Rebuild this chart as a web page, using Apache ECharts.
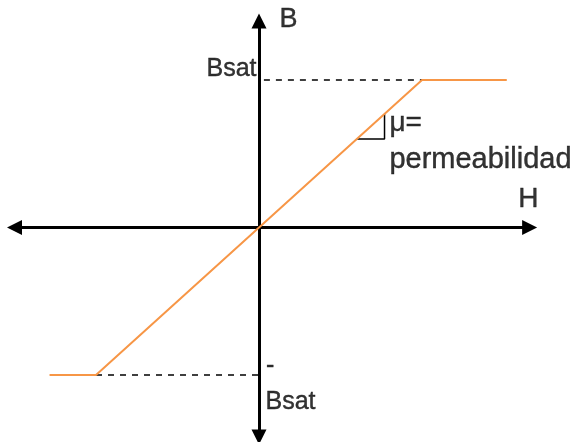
<!DOCTYPE html>
<html>
<head>
<meta charset="utf-8">
<script src="https://cdn.jsdelivr.net/npm/echarts@6/dist/echarts.min.js"></script>
<style>
html, body { margin: 0; padding: 0; background: #fff; }
#main { width: 575px; height: 442px; }
</style>
</head>
<body>
<div id="main"></div>
<script>
// curva B-H idealizada (Hsat = 1, Bsat = 1)
var curveH = [-1.285, -1, 1, 1.52];
var curveB = [-1, -1, 1, 1];

// lineas punteadas de saturacion
var satTopH = [0.03, 1];
var satBotH = [-1, 0];

// triangulo de la pendiente
var slopeH = [0.6, 0.77, 0.77];
var slopeB = [0.6, 0.6, 0.77];

// textos y su punto de anclaje
var labelTexts = ['B', 'Bsat', 'μ=', 'permeabilidad', 'H', '-', 'Bsat'];
var labelH = [0.126, -0.015, 0.8, 0.8, 1.59, 0.043, 0.04];
var labelB = [1.41, 1.075, 0.705, 0.455, 0.19, -0.94, -1.185];

var chart = echarts.init(document.getElementById('main'));

function zip(xs, ys) {
    return xs.map(function (x, i) { return [x, ys[i]]; });
}

var fontSizes = [27, 25, 28, 29, 28, 25, 25];
var labelData = labelTexts.map(function (t, i) {
    return {
        value: [labelH[i], labelB[i]],
        label: {
            show: true,
            formatter: t,
            position: i === 1 ? 'left' : 'right',
            distance: 0,
            fontSize: fontSizes[i],
            color: '#000',
            textBorderColor: '#000',
            textBorderWidth: 0.4,
            fontFamily: 'Liberation Sans, Arial, sans-serif'
        }
    };
});

function axisCfg(min, max) {
    return {
        type: 'value',
        min: min,
        max: max,
        axisLine: {
            show: true,
            onZero: true,
            symbol: ['triangle', 'triangle'],
            symbolSize: [15, 15],
            lineStyle: { color: '#000', width: 3 }
        },
        axisTick: { show: false },
        axisLabel: { show: false },
        splitLine: { show: false }
    };
}

chart.setOption({
    animation: false,
    backgroundColor: '#fff',
    grid: { left: 14.5, right: 45.4, top: 21, bottom: 5.05, containLabel: false },
    xAxis: axisCfg(-1.5, 1.66),
    yAxis: axisCfg(-1.42, 1.4),
    series: [
        {
            type: 'line', silent: true, symbol: 'none',
            data: satTopH.map(function (h) { return [h, 1]; }),
            lineStyle: { color: '#000', width: 1.5, type: [6, 6] }
        },
        {
            type: 'line', silent: true, symbol: 'none',
            data: satBotH.map(function (h) { return [h, -1]; }),
            lineStyle: { color: '#000', width: 1.5, type: [6, 6] }
        },
        {
            type: 'line', silent: true, symbol: 'none',
            data: zip(slopeH, slopeB),
            lineStyle: { color: '#000', width: 1.5 }
        },
        {
            type: 'line', silent: true, symbol: 'none', z: 3,
            data: zip(curveH, curveB),
            lineStyle: { color: '#F79646', width: 2 }
        },
        {
            type: 'scatter', silent: true, clip: false, symbolSize: 0, z: 5,
            data: labelData
        }
    ]
});
</script>
</body>
</html>
